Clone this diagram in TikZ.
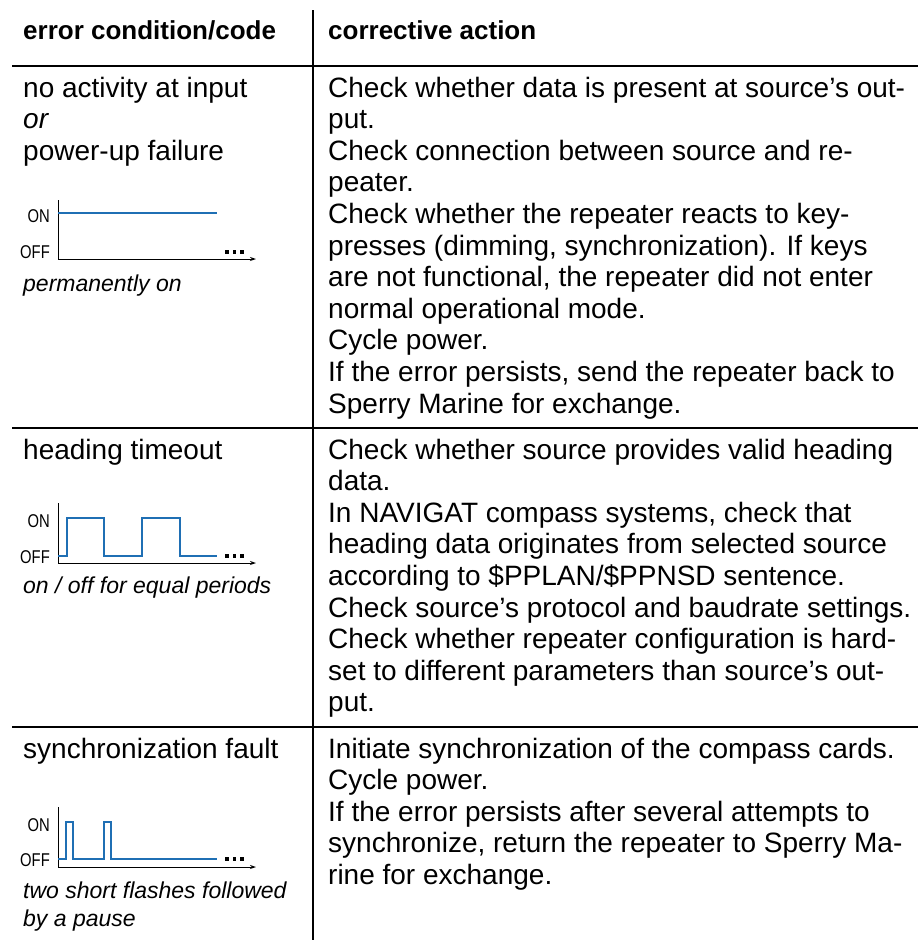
\documentclass[tikz,border=0pt]{standalone}
\usepackage{fontspec}
\setmainfont{Liberation Sans}
\newfontfamily\condfont[FakeStretch=0.8]{Liberation Sans}
\usetikzlibrary{arrows.meta}
\definecolor{sigblue}{RGB}{31,111,180}
\begin{document}
\begin{tikzpicture}[x=1pt,y=-1pt,
  txt/.style={anchor=base west,inner sep=0pt,font=\fontsize{28}{32}\selectfont},
  itx/.style={txt,font=\fontsize{28}{32}\selectfont\itshape},
  hdr/.style={anchor=base west,inner sep=0pt,font=\fontsize{26}{30}\selectfont\bfseries},
  captxt/.style={anchor=base west,inner sep=0pt,font=\fontsize{23}{28}\selectfont\itshape},
  lvl/.style={anchor=base east,inner sep=0pt,font=\fontsize{18.5}{20}\condfont},
  rulel/.style={line width=2.5pt},
  axisl/.style={line width=1pt},
  sig/.style={sigblue,line width=2pt},
]
\useasboundingbox[fill=white] (0,0) rectangle (918,940);

% grid
\draw[line width=2pt] (313,10) -- (313,940);
\draw[rulel] (12,66) -- (918,66);
\draw[rulel] (12,428) -- (918,428);
\draw[rulel] (12,727) -- (918,727);

% header
\node[hdr] (h1) at (23,39) {error condition/code};
\node[hdr] (h2) at (328,39) {corrective action};

% row 1 left
\node[txt] (l1a) at (23,97) {no activity at input};
\node[itx] (l1b) at (23,128.6) {or};
\node[txt] (l1c) at (23,160.2) {power-up failure};
\node[lvl] (on1) at (50,222) {ON};
\node[lvl] (off1) at (50,258) {OFF};
\draw[axisl,-{Stealth[length=6pt,width=4pt]}] (58,200) |- (256,259);
\draw[sig] (58,213) -- (217,213);
\foreach \x in {227,234.5,242} \fill (\x-1.6,250.4) rectangle ++(3.2,3.2);
\node[captxt] (c1) at (23,291) {permanently on};

% row 1 right
\node[txt] (r1a) at (328,97) {Check whether data is present at source’s out-};
\node[txt] (r1b) at (328,128.6) {put.};
\node[txt] (r1c) at (328,160.2) {Check connection between source and re-};
\node[txt] (r1d) at (328,191.8) {peater.};
\node[txt] (r1e) at (328,223.4) {Check whether the repeater reacts to key-};
\node[txt] (r1f) at (328,255) {presses (dimming, synchronization). If keys};
\node[txt] (r1g) at (328,286.6) {are not functional, the repeater did not enter};
\node[txt] (r1h) at (328,318.2) {normal operational mode.};
\node[txt] (r1i) at (328,349.8) {Cycle power.};
\node[txt] (r1j) at (328,381.4) {If the error persists, send the repeater back to};
\node[txt] (r1k) at (328,413) {Sperry Marine for exchange.};

% row 2 left
\node[txt] (l2a) at (23,459) {heading timeout};
\node[lvl] (on2) at (50,527) {ON};
\node[lvl] (off2) at (50,563) {OFF};
\draw[axisl,-{Stealth[length=6pt,width=4pt]}] (58,503) |- (256,563);
\draw[sig] (58,556) -- (67,556) -- (67,518) -- (104,518) -- (104,556) -- (142,556) -- (142,518) -- (180,518) -- (180,556) -- (217,556);
\foreach \x in {227,234.5,242} \fill (\x-1.6,554.4) rectangle ++(3.2,3.2);
\node[captxt] (c2) at (23,593) {on / off for equal periods};

% row 2 right
\node[txt] (r2a) at (328,459) {Check whether source provides valid heading};
\node[txt] (r2b) at (328,490.6) {data.};
\node[txt] (r2c) at (328,522.2) {In NAVIGAT compass systems, check that};
\node[txt] (r2d) at (328,553.8) {heading data originates from selected source};
\node[txt] (r2e) at (328,585.4) {according to \$PPLAN/\$PPNSD sentence.};
\node[txt] (r2f) at (328,617) {Check source’s protocol and baudrate settings.};
\node[txt] (r2g) at (328,648.6) {Check whether repeater configuration is hard-};
\node[txt] (r2h) at (328,680.2) {set to different parameters than source’s out-};
\node[txt] (r2i) at (328,711.8) {put.};

% row 3 left
\node[txt] (l3a) at (23,758) {synchronization fault};
\node[lvl] (on3) at (50,831) {ON};
\node[lvl] (off3) at (50,866) {OFF};
\draw[axisl,-{Stealth[length=6pt,width=4pt]}] (58,807) |- (256,867);
\draw[sig] (58,859) -- (66,859) -- (66,822) -- (73,822) -- (73,859) -- (104,859) -- (104,822) -- (111,822) -- (111,859) -- (217,859);
\foreach \x in {227,234.5,242} \fill (\x-1.6,857.4) rectangle ++(3.2,3.2);
\node[captxt] (c3a) at (23,898) {two short flashes followed};
\node[captxt] (c3b) at (23,926) {by a pause};

% row 3 right
\node[txt] (r3a) at (328,758) {Initiate synchronization of the compass cards.};
\node[txt] (r3b) at (328,789.6) {Cycle power.};
\node[txt] (r3c) at (328,821.2) {If the error persists after several attempts to};
\node[txt] (r3d) at (328,852.8) {synchronize, return the repeater to Sperry Ma-};
\node[txt] (r3e) at (328,884.4) {rine for exchange.};
\end{tikzpicture}
\end{document}
